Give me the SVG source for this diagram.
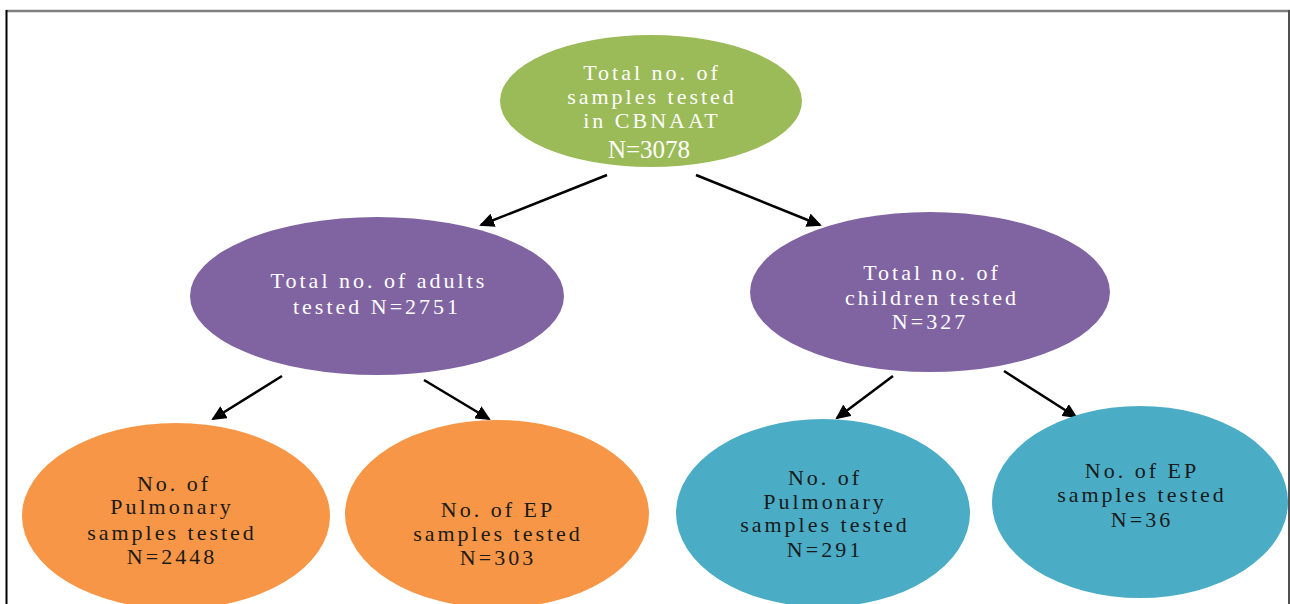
<svg xmlns="http://www.w3.org/2000/svg" width="1290" height="604" viewBox="0 0 1290 604">
<style>
  text { font-family: "Liberation Serif", "Times New Roman", serif; font-size: 22px; letter-spacing: 3px; text-anchor: middle; }
  .lt { fill: #ffffff; }
  .dk { fill: #1a1a1a; }
  .big { font-size: 25px; letter-spacing: 0px; }
  .conn line { stroke: #000; stroke-width: 2.5; marker-end: url(#ah); }
</style>
<defs>
  <marker id="ah" markerWidth="16" markerHeight="14" refX="13" refY="7" orient="auto" markerUnits="userSpaceOnUse">
    <path d="M0,0 L15,7 L0,14 z" fill="#000"/>
  </marker>
</defs>
<rect x="0" y="0" width="1290" height="604" fill="#ffffff"/>
<g id="frame">
  <line x1="6" y1="11" x2="1290" y2="11" stroke="#808080" stroke-width="2.5"/>
  <line x1="6.5" y1="10" x2="6.5" y2="604" stroke="#000" stroke-width="2"/>
  <line x1="1289" y1="10" x2="1289" y2="604" stroke="#505050" stroke-width="2"/>
</g>
<g class="conn" id="connectors">
  <line x1="607" y1="175" x2="481" y2="225"/>
  <line x1="696" y1="175" x2="820" y2="225"/>
  <line x1="282" y1="376" x2="213" y2="419"/>
  <line x1="424" y1="380" x2="489" y2="419"/>
  <line x1="893" y1="376" x2="837" y2="418"/>
  <line x1="1004" y1="371" x2="1076" y2="417"/>
</g>
<g id="n-total">
  <ellipse cx="651" cy="101" rx="151" ry="66" fill="#9BBB59"/>
  <text class="lt" x="652" y="80">Total no. of</text>
  <text class="lt" x="652" y="104">samples tested</text>
  <text class="lt" x="652" y="128">in CBNAAT</text>
  <text class="lt big" x="649" y="158">N=3078</text>
</g>
<g id="n-adults">
  <ellipse cx="377" cy="296" rx="187" ry="79" fill="#8064A2"/>
  <text class="lt" x="379" y="288">Total no. of adults</text>
  <text class="lt" x="377" y="314">tested N=2751</text>
</g>
<g id="n-children">
  <ellipse cx="930" cy="292" rx="180" ry="80" fill="#8064A2"/>
  <text class="lt" x="932" y="280">Total no. of</text>
  <text class="lt" x="932" y="305">children tested</text>
  <text class="lt" x="930" y="329">N=327</text>
</g>
<g id="n-adult-pulm">
  <ellipse cx="176" cy="516" rx="154" ry="93" fill="#F79646"/>
  <text class="dk" x="174" y="491">No. of</text>
  <text class="dk" x="172" y="514">Pulmonary</text>
  <text class="dk" x="172" y="540">samples tested</text>
  <text class="dk" x="172" y="564">N=2448</text>
</g>
<g id="n-adult-ep">
  <ellipse cx="497" cy="514" rx="152" ry="94" fill="#F79646"/>
  <text class="dk" x="498" y="517">No. of EP</text>
  <text class="dk" x="498" y="541">samples tested</text>
  <text class="dk" x="498" y="565">N=303</text>
</g>
<g id="n-child-pulm">
  <ellipse cx="823" cy="513" rx="147" ry="94" fill="#4BACC6"/>
  <text class="dk" x="825" y="485">No. of</text>
  <text class="dk" x="825" y="509">Pulmonary</text>
  <text class="dk" x="825" y="532">samples tested</text>
  <text class="dk" x="825" y="557">N=291</text>
</g>
<g id="n-child-ep">
  <ellipse cx="1140" cy="502" rx="148" ry="96" fill="#4BACC6"/>
  <text class="dk" x="1142" y="478">No. of EP</text>
  <text class="dk" x="1142" y="502">samples tested</text>
  <text class="dk" x="1142" y="527">N=36</text>
</g>
</svg>
